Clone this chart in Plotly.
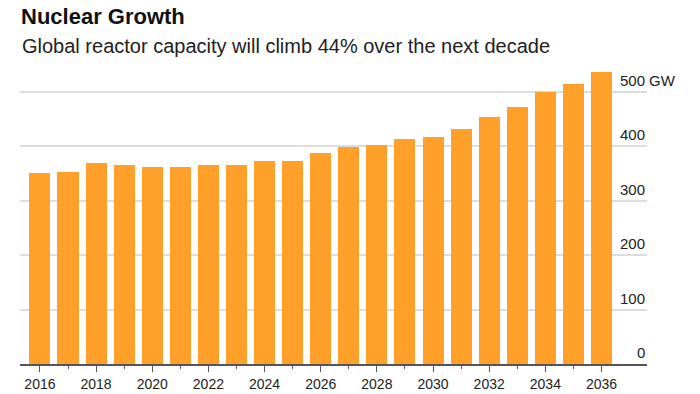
import plotly.graph_objects as go

years = list(range(2016, 2037))
capacity_gw = [351, 353, 368, 366, 362, 362, 365, 366, 372, 373, 387, 398,
               401, 413, 417, 431, 454, 471, 499, 513, 535]
y_ticks = [0, 100, 200, 300, 400, 500]
x_tick_years = list(range(2016, 2037, 2))

title_text = "Nuclear Growth"
subtitle_text = "Global reactor capacity will climb 44% over the next decade"
unit_text = "GW"

FONT = "Liberation Sans, Arial, sans-serif"
BAR = "#FFA02B"

W, H = 700, 394
ml, mr, mt, mb = 20, 53, 66, 30
pw = W - ml - mr
ph = H - mt - mb

fig = go.Figure()
fig.add_trace(go.Bar(x=years, y=capacity_gw, marker=dict(color=BAR, line=dict(width=0)),
                     width=0.75, hoverinfo="x+y"))

annotations = []
label_x = (647 - ml) / pw
for v in y_ticks:
    annotations.append(dict(x=label_x, xref="paper", y=v, yref="y", text=str(v),
                            showarrow=False, xanchor="right", yanchor="bottom", yshift=1,
                            font=dict(family=FONT, size=15, color="#222")))
annotations.append(dict(x=label_x, xref="paper", y=y_ticks[-1], yref="y", text=unit_text,
                        showarrow=False, xanchor="left", yanchor="bottom", xshift=0, yshift=1,
                        font=dict(family=FONT, size=15, color="#222")))
annotations.append(dict(x=(20 - ml) / pw, xref="paper", y=(H - mb - 46) / ph, yref="paper",
                        text=subtitle_text, showarrow=False, xanchor="left", yanchor="middle",
                        font=dict(family=FONT, size=20, color="#222")))

fig.update_layout(
    width=W, height=H,
    margin=dict(l=ml, r=mr, t=mt, b=mb, pad=0, autoexpand=False),
    paper_bgcolor="white", plot_bgcolor="white",
    showlegend=False,
    bargap=0,
    title=dict(text="<b>" + title_text + "</b>", x=21 / W, xanchor="left", xref="container",
               y=1 - 16 / H, yanchor="middle", yref="container",
               font=dict(family=FONT, size=22, color="#111")),
    annotations=annotations,
    xaxis=dict(range=[2015.29, 2037.62], tickmode="array", tickvals=x_tick_years,
               ticktext=[str(y) for y in x_tick_years], automargin=False,
               ticks="outside", ticklen=6, tickwidth=1, tickcolor="#555",
               showline=True, linecolor="#555", linewidth=2, showgrid=False, zeroline=False,
               tickfont=dict(family=FONT, size=14, color="#222"),
               minor=dict(tickvals=years, ticks="outside", ticklen=3, tickwidth=1, tickcolor="#555")),
    yaxis=dict(range=[0, ph / 0.545], tickmode="array", tickvals=y_ticks, showticklabels=False,
               automargin=False,
               showgrid=True, gridcolor="#dddddd", gridwidth=1.5, zeroline=False, ticks=""),
)

fig.write_html("out.html")
